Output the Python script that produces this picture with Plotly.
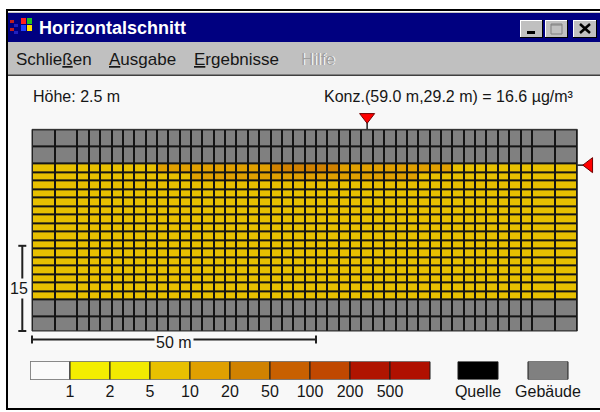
import plotly.graph_objects as go

# ---------------- data ----------------
height_m = 2.5            # Höhe
probe_x = 59.0            # Konz. position x (m)
probe_y = 29.2            # Konz. position y (m)
probe_conc = 16.6         # µg/m³

# grid cell edges in metres
col_edges = [0, 4, 8, 10, 12, 14, 16, 18, 20, 22, 24, 26, 28, 30, 32, 34, 36, 38,
             40, 42, 44, 46, 48, 50, 52, 54, 56, 58, 60, 62, 64, 66, 68, 70, 72, 74,
             76, 78, 80, 82, 84, 86, 88, 92, 96]
row_edges = [0, 2.5, 5.5, 7.0, 8.5, 10.0, 11.5, 13.0, 14.5, 16.0, 17.5, 19.0, 20.5,
             22.0, 23.5, 25.0, 26.5, 28.0, 29.5, 32.5, 35.5]

# concentration class per cell (bottom row first); G = Gebäude, digits = class
cell_rows = [
    "GGGG GGGG GGGG GGGG GGGG GGGG GGGG GGGG GGGG GGGG GGGG",
    "GGGG GGGG GGGG GGGG GGGG GGGG GGGG GGGG GGGG GGGG GGGG",
    "3333 3333 3333 3333 3333 3333 3333 3333 3333 3333 3333",
    "3333 3333 3333 3333 3333 3333 3333 3333 3333 3333 3333",
    "3333 3333 3333 3333 3333 3333 3333 3333 3333 3333 3333",
    "3333 3333 3333 3333 3333 3333 3333 3333 3333 3333 3333",
    "3333 3333 3333 3333 3333 3333 3333 3333 3333 3333 3333",
    "3333 3333 3333 3333 3333 3333 3333 3333 3333 3333 3333",
    "3333 3333 3333 3333 3333 3333 3333 3333 3333 3333 3333",
    "3333 3333 3333 3333 3333 3333 3333 3333 3333 3333 3333",
    "3333 3333 3333 3333 3333 3333 3333 3333 3333 3333 3333",
    "3333 3333 3333 3333 3333 3333 3333 3333 3333 3333 3333",
    "3333 3333 3333 3333 3333 3333 3333 3333 3333 3333 3333",
    "3333 3333 3333 3333 3333 3333 3333 3333 3333 3333 3333",
    "3333 3333 3333 3333 3333 3333 3333 3333 3333 3333 3333",
    "3333 3333 3333 3333 3333 3333 3333 3333 3333 3333 3333",
    "3333 3333 3333 4444 4444 4444 4444 4444 3333 3333 3333",
    "3333 3333 3444 4444 4445 5555 5444 4444 4443 3333 3333",
    "GGGG GGGG GGGG GGGG GGGG GGGG GGGG GGGG GGGG GGGG GGGG",
    "GGGG GGGG GGGG GGGG GGGG GGGG GGGG GGGG GGGG GGGG GGGG",
]

class_labels = ["1", "2", "5", "10", "20", "50", "100", "200", "500"]
class_colors = ["#fafafa", "#f4ee00", "#f2ea00", "#e8c000", "#e0a000", "#d08200",
                "#c86000", "#c04800", "#b01400", "#b01000"]
key_labels = ["Quelle", "Gebäude"]
key_colors = ["#000000", "#808080"]

# ---------------- layout geometry (pixels) ----------------
W, H = 600, 412
GX0, GX1 = 32.0, 577.3
GY0 = 331.0
ppm = (GX1 - GX0) / (col_edges[-1] - col_edges[0])
FONT = "Liberation Sans, Arial, sans-serif"
TXT = "#161616"
CLIENT = "#f8f8f8"


def px(x):
    return x / W


def py(y):
    return 1 - y / H


all_colors = class_colors + ["#808080", "#000000"]
code = {str(i): i for i in range(10)}
code["G"] = 10
code["Q"] = 11
z = [[code[c] for c in r.replace(" ", "")] for r in cell_rows]
n = len(all_colors)
cs = []
for i, c in enumerate(all_colors):
    cs.append([i / n, c])
    cs.append([(i + 1) / n, c])

fig = go.Figure()

# grid
fig.add_trace(go.Heatmap(x=col_edges, y=row_edges, z=z, colorscale=cs,
                         zmin=-0.5, zmax=n - 0.5, showscale=False,
                         xgap=2, ygap=2, hoverinfo="skip"))

# probe markers
top = row_edges[-1]
right = col_edges[-1]
fig.add_trace(go.Scatter(x=[probe_x, probe_x], y=[top, top + 7 / ppm], mode="lines",
                         line=dict(color="#202020", width=1.5), hoverinfo="skip",
                         cliponaxis=False))
fig.add_trace(go.Scatter(x=[right, right + 7 / ppm], y=[probe_y, probe_y], mode="lines",
                         line=dict(color="#202020", width=1.5), hoverinfo="skip",
                         cliponaxis=False))
fig.add_trace(go.Scatter(x=[probe_x], y=[top + 12.5 / ppm], mode="markers",
                         marker=dict(symbol="triangle-down", size=13, color="#ff0000",
                                     line=dict(color="#700000", width=1)),
                         hoverinfo="skip", cliponaxis=False))
fig.add_trace(go.Scatter(x=[right + 12 / ppm], y=[probe_y], mode="markers",
                         marker=dict(symbol="triangle-left", size=13, color="#ff0000",
                                     line=dict(color="#700000", width=1)),
                         hoverinfo="skip", cliponaxis=False))

# scale bars
scale_x = 50
scale_y = 15
hb = row_edges[0] - 8.5 / ppm
vb = col_edges[0] - 9.7 / ppm
c4 = 4 / ppm
fig.add_trace(go.Scatter(
    x=[col_edges[0], col_edges[0] + scale_x, None, col_edges[0], col_edges[0], None,
       col_edges[0] + scale_x, col_edges[0] + scale_x],
    y=[hb, hb, None, hb + c4, hb - c4, None, hb + c4, hb - c4],
    mode="lines", line=dict(color="#202020", width=2), hoverinfo="skip"))
fig.add_trace(go.Scatter(
    x=[vb, vb, None, vb - c4, vb + c4, None, vb - c4, vb + c4],
    y=[row_edges[0], row_edges[0] + scale_y, None, row_edges[0], row_edges[0], None,
       row_edges[0] + scale_y, row_edges[0] + scale_y],
    mode="lines", line=dict(color="#202020", width=2), hoverinfo="skip"))

# legend boxes
lx = [i + 0.5 for i in range(len(class_colors))] + [11.2, 12.95]
fig.add_trace(go.Bar(x=lx, y=[1] * len(lx), base=0, width=[1] * len(lx),
                     marker=dict(color=class_colors + key_colors,
                                 line=dict(color="#1a1a1a", width=1)),
                     xaxis="x2", yaxis="y2", hoverinfo="skip"))

shapes = []


def rect(x0, y0, x1, y1, fill, line=None, lw=0):
    shapes.append(dict(type="rect", xref="paper", yref="paper", layer="below",
                       x0=px(x0), x1=px(x1), y0=py(y1), y1=py(y0), fillcolor=fill,
                       line=dict(color=line or fill, width=lw)))


def hline(x0, x1, y, color, w=1):
    shapes.append(dict(type="line", xref="paper", yref="paper", layer="above",
                       x0=px(x0), x1=px(x1), y0=py(y), y1=py(y),
                       line=dict(color=color, width=w)))


def vline(x, y0, y1, color, w=1):
    shapes.append(dict(type="line", xref="paper", yref="paper", layer="above",
                       x0=px(x), x1=px(x), y0=py(y0), y1=py(y1),
                       line=dict(color=color, width=w)))


# window chrome
rect(6, 9, 601, 410, "#000000")
rect(8, 11, 601, 408, "#c0c0c0")
hline(8, 601, 11.5, "#ffffff")
rect(8, 13, 601, 42, "#000080")
rect(8, 76, 601, 408, CLIENT)
hline(8, 601, 74.5, "#808080")
hline(8, 601, 75.5, "#404040")
# icon
for (a, b, c, d, col) in [(21, 18, 26, 24, "#ff2020"), (27, 18, 32, 24, "#20c020"),
                          (21, 25, 26, 31, "#2040ff"), (27, 25, 32, 31, "#ffe000"),
                          (10, 20, 14, 23, "#c02020"), (14, 24, 18, 27, "#2020c0"),
                          (10, 28, 14, 31, "#c02020"), (14, 31, 18, 34, "#2020c0")]:
    rect(a, b, c, d, col)
# buttons
for (bx0, bx1) in [(520, 543), (545, 568), (573, 597)]:
    rect(bx0, 20, bx1, 38, "#c0c0c0")
    hline(bx0, bx1, 20.5, "#ffffff")
    vline(bx0 + 0.5, 20, 38, "#ffffff")
    hline(bx0, bx1, 37.5, "#000000")
    vline(bx1 - 0.5, 20, 38, "#000000")
rect(527, 31, 535, 34, "#000000")
rect(551, 24, 562, 34, "rgba(0,0,0,0)", "#808080", 1)
hline(551, 562, 25, "#808080", 1)
shapes.append(dict(type="line", xref="paper", yref="paper", x0=px(580), x1=px(590),
                   y0=py(24), y1=py(33), line=dict(color="#000000", width=2.5)))
shapes.append(dict(type="line", xref="paper", yref="paper", x0=px(580), x1=px(590),
                   y0=py(33), y1=py(24), line=dict(color="#000000", width=2.5)))
# grid background (cell borders)
shapes.append(dict(type="rect", xref="x", yref="y", layer="below",
                   x0=col_edges[0], x1=col_edges[-1], y0=row_edges[0], y1=row_edges[-1],
                   fillcolor="#141414", line=dict(color="#303030", width=1)))

ann = []


def text(x, y, s, size=16, color=TXT, anchor="left", **kw):
    ann.append(dict(xref="paper", yref="paper", x=px(x), y=py(y), text=s,
                    showarrow=False, xanchor=anchor, yanchor="middle",
                    font=dict(family=FONT, size=size, color=color), **kw))


text(37, 28, "<b>Horizontalschnitt</b>", size=18, color="#ffffff")
text(14, 59, "Schlie<u>ß</u>en", size=17)
text(107, 59, "<u>A</u>usgabe", size=17)
text(192, 59, "<u>E</u>rgebnisse", size=17)
text(300, 60, "Hilfe", size=17, color="#ffffff")
text(299, 59, "Hilfe", size=17, color="#a0a0a0")
text(31, 96, f"Höhe: {height_m} m", size=16)
text(576, 96, f"Konz.({probe_x:.1f} m,{probe_y:.1f} m) = {probe_conc:.1f} µg/m³",
     size=16, anchor="right")
ann.append(dict(xref="x", yref="y", x=col_edges[0] + scale_x / 2, y=hb - 3 / ppm,
                text=f"{scale_x} m", showarrow=False, bgcolor=CLIENT, borderpad=1,
                font=dict(family=FONT, size=16, color=TXT)))
ann.append(dict(xref="x", yref="y", x=vb - 3 / ppm, y=row_edges[0] + scale_y / 2,
                text=f"{scale_y}", showarrow=False, bgcolor=CLIENT, borderpad=1,
                font=dict(family=FONT, size=16, color=TXT)))

fig.update_layout(
    width=W, height=H, margin=dict(l=0, r=0, t=0, b=0),
    paper_bgcolor="#ffffff", plot_bgcolor="rgba(0,0,0,0)", showlegend=False,
    xaxis=dict(domain=[0, 1], range=[col_edges[0] - GX0 / ppm, col_edges[0] + (W - GX0) / ppm],
               visible=False, fixedrange=True),
    yaxis=dict(domain=[0, 1], range=[row_edges[0] - (H - GY0) / ppm, row_edges[0] + GY0 / ppm],
               visible=False, fixedrange=True),
    xaxis2=dict(domain=[px(30), px(590)], range=[0, 14], anchor="y2",
                tickvals=list(range(1, len(class_labels) + 1)) + [11.2, 12.95],
                ticktext=class_labels + key_labels, ticks="", showgrid=False,
                zeroline=False, showline=False, fixedrange=True,
                tickfont=dict(family=FONT, size=16, color=TXT)),
    yaxis2=dict(domain=[py(379.5), py(361.5)], range=[0, 1], anchor="x2",
                visible=False, fixedrange=True),
    shapes=shapes, annotations=ann,
)

fig.write_html("out.html", config={"displayModeBar": False},
               post_script="document.body.style.margin='0px';document.body.style.overflow='hidden';")
